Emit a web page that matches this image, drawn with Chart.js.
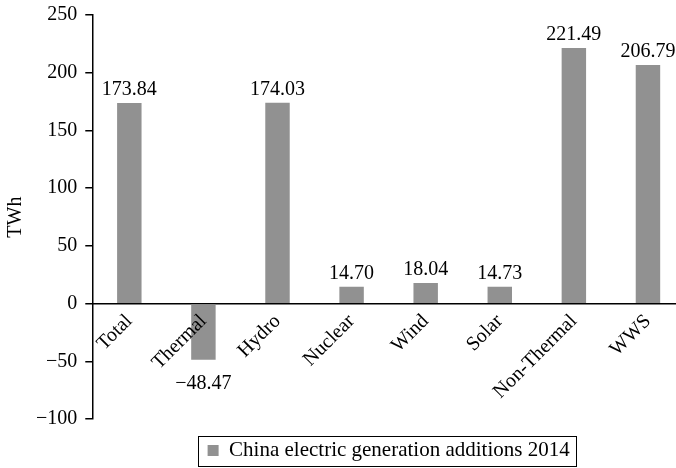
<!DOCTYPE html>
<html><head><meta charset="utf-8">
<script src="https://cdn.jsdelivr.net/npm/chart.js@4"></script>
<style>html,body{margin:0;padding:0;background:#fff;overflow:hidden}#wrap{width:676px;height:468px;overflow:hidden}</style>
</head><body><div id="wrap"><canvas id="c" width="685" height="468"></canvas></div>
<script>
const categories = ['Total', 'Thermal', 'Hydro', 'Nuclear', 'Wind', 'Solar', 'Non-Thermal', 'WWS'];
const values = [173.84, -48.47, 174.03, 14.70, 18.04, 14.73, 221.49, 206.79];
const valueLabels = ['173.84', '\u221248.47', '174.03', '14.70', '18.04', '14.73', '221.49', '206.79'];
const seriesName = 'China electric generation additions 2014';
const yTicks = [-100, -50, 0, 50, 100, 150, 200, 250];
const yTitle = 'TWh';

const FONT = "'Liberation Serif', 'Times New Roman', serif";
const BAR = '#919191';

const valueLabelPlugin = {
  id: 'valueLabels',
  afterDatasetsDraw(chart) {
    const ctx = chart.ctx;
    const meta = chart.getDatasetMeta(0);
    ctx.save();
    ctx.font = '20px ' + FONT;
    ctx.fillStyle = '#000';
    ctx.textAlign = 'center';
    ctx.textBaseline = 'alphabetic';
    meta.data.forEach((bar, i) => {
      if (values[i] >= 0) {
        ctx.fillText(valueLabels[i], bar.x, bar.y - 8);
      } else {
        ctx.fillText(valueLabels[i], bar.x, bar.y + 29);
      }
    });
    ctx.restore();
  }
};

const legendBorderPlugin = {
  id: 'legendBorder',
  afterDraw(chart) {
    const lg = chart.legend;
    if (!lg || !lg.legendHitBoxes || !lg.legendHitBoxes.length) return;
    const hb = lg.legendHitBoxes[0];
    const ctx = chart.ctx;
    ctx.save();
    ctx.strokeStyle = '#000';
    ctx.lineWidth = 1;
    const cy = hb.top + hb.height / 2;
    ctx.strokeRect(Math.round(hb.left - 10) + 0.5, Math.round(cy - 15) + 0.5, Math.round(hb.width + 16), 30);
    ctx.restore();
  }
};

new Chart(document.getElementById('c'), {
  type: 'bar',
  data: {
    labels: categories,
    datasets: [{
      label: seriesName,
      data: values,
      backgroundColor: BAR,
      borderWidth: 0,
      barPercentage: 0.33,
      categoryPercentage: 1.0
    }]
  },
  options: {
    responsive: false,
    animation: false,
    layout: { padding: { top: 15, right: 0, left: 4, bottom: -3 } },
    plugins: {
      tooltip: { enabled: false },
      legend: {
        position: 'bottom',
        fullSize: false,
        title: { display: true, text: '', font: { size: 9 }, padding: 0 },
        labels: {
          font: { family: FONT, size: 21 },
          color: '#000',
          boxWidth: 11,
          boxHeight: 11,
          padding: 10
        }
      }
    },
    scales: {
      x: {
        position: { y: 0 },
        grid: { display: true, drawOnChartArea: false, drawTicks: false },
        border: { display: true, color: '#000', width: 1.5 },
        ticks: {
          z: 1,
          autoSkip: false,
          minRotation: 45,
          maxRotation: 45,
          padding: 6,
          color: '#000',
          font: { family: FONT, size: 20 }
        }
      },
      y: {
        min: -100,
        max: 250,
        afterBuildTicks(axis) { axis.ticks = yTicks.map(v => ({ value: v })); },
        afterFit(axis) { axis.paddingTop = 0; },
        grid: { display: true, drawOnChartArea: false, drawTicks: true, tickLength: 7, color: '#000', lineWidth: 1.5 },
        border: { display: true, color: '#000', width: 1.5 },
        title: { display: true, text: yTitle, color: '#000', font: { family: FONT, size: 20 }, padding: { top: 0, bottom: 0 } },
        ticks: {
          padding: 8,
          color: '#000',
          font: { family: FONT, size: 20 },
          callback: (v) => String(v).replace('-', '\u2212')
        }
      }
    }
  },
  plugins: [valueLabelPlugin, legendBorderPlugin]
});
</script>
</body></html>
